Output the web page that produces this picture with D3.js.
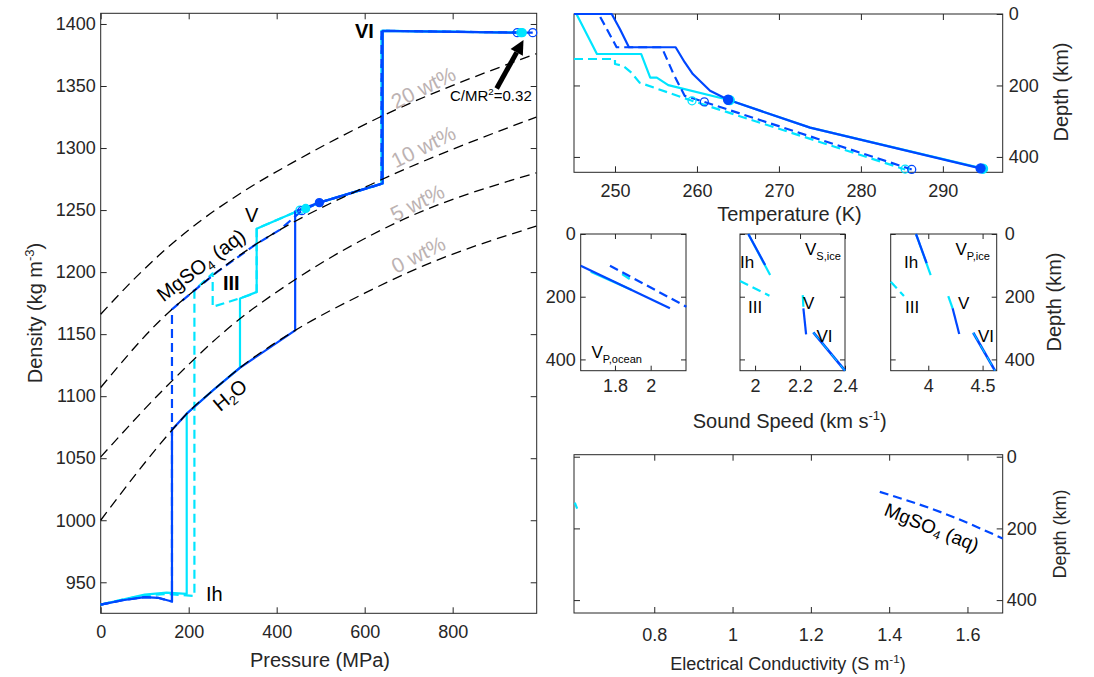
<!DOCTYPE html>
<html>
<head>
<meta charset="utf-8">
<script src="https://cdn.jsdelivr.net/npm/d3@7"></script>
<style>
  body { margin: 0; background: #fff; }
  svg text { font-family: "Liberation Sans", Arial, Helvetica, sans-serif; }
</style>
</head>
<body>
<svg id="fig" width="1094" height="677"></svg>
<script>
// ---------- main panel: density (kg m^-3) vs pressure (MPa)
const pressureTicks = [0, 200, 400, 600, 800];
const densityTicks = [950, 1000, 1050, 1100, 1150, 1200, 1250, 1300, 1350, 1400];

// reference solution densities (black dashed)
const wt0 = [[0,1000],[163,1073],[196,1086],[256,1105],[317,1123],[442,1153],[600,1183],[733,1205],[990,1237]];
const wt5 = [[0,1051],[150,1108],[301,1158],[438,1193],[673,1240],[990,1280]];
const wt10 = [[0,1107],[135,1161],[165,1171],[214,1185.5],[264,1200],[351,1222],[407,1234],[635,1274],[990,1325]];
const wt20 = [[0,1166],[89,1199],[200,1234],[320,1264],[445,1290],[635,1325],[990,1376]];
const wtLabels = [
  {t: "20 wt%", x: 423, y: 87},
  {t: "10 wt%", x: 423, y: 146},
  {t: "5 wt%", x: 417, y: 202},
  {t: "0 wt%", x: 418, y: 254}
];

// model profiles
const rhoBlueSolid = [[0,932],[50,935.5],[100,938],[130,937.5],[162,934.5],[162,1073],[196,1086],[256,1105],[317,1123],[442,1153],[442,1249],[497,1256],[641,1271.5],[641,1394.5],[947,1393]];
const rhoBlueDashed = [[0,932],[50,935.5],[100,938],[130,937.5],[162,934.5],[162,1170],[214,1185.5],[264,1200],[351,1222],[407,1234],[457,1249.5],[497,1256],[638,1271],[638,1394.5],[982,1393]];
const rhoCyanSolid = [[0,932],[50,936],[100,940],[150,941.6],[195.5,940.6],[195.5,1086],[256,1105],[316.6,1123],[316.6,1178.8],[354.5,1184],[354.5,1235],[453,1250],[466,1251.3],[497,1256],[641,1271.5],[641,1394.5],[958,1393]];
const rhoCyanDashed = [[0,932],[50,936],[100,939.5],[150,940.5],[213,939],[213,1185.5],[254.5,1199],[254.5,1172],[339,1181.5],[354.5,1184],[354.5,1235],[453,1250],[497,1256],[638,1271],[638,1394.5],[955,1393]];
const rhoMarkers = [
  {p: 453, r: 1250, c: "cyan", fill: false}, {p: 457, r: 1249.5, c: "blue", fill: false},
  {p: 466, r: 1251.3, c: "cyan", fill: true}, {p: 497, r: 1256, c: "blue", fill: true},
  {p: 947, r: 1393, c: "blue", fill: false}, {p: 958, r: 1393, c: "cyan", fill: true},
  {p: 955, r: 1393, c: "cyan", fill: false}, {p: 982, r: 1393, c: "blue", fill: false}
];
const arrowTail = [900, 1348], arrowTip = [961, 1387];

// ---------- temperature panel: depth (km) vs T (K)
const tempTicks = [250, 260, 270, 280, 290];
const depthTicks = [0, 200, 400];
const tBlueSolid = [[245,0],[249.6,0],[250.6,42],[251.7,93],[257.4,93],[258.5,135],[259.5,168],[261.6,215],[263.8,240],[273.8,318],[294.6,432]];
const tCyanSolid = [[245.3,0],[247.8,112],[253.2,112],[254.3,178],[255.1,178],[256.5,199],[263.8,240],[273.8,318],[294.8,432]];
const tBlueDashed = [[245,0],[248,0],[249,42],[250.2,93],[255.7,93],[257.1,166],[258.5,229],[260.9,246],[286.2,435]];
const tCyanDashed = [[245,126],[250,126],[250,140],[251,145],[252,164],[253,192],[259.4,243],[285.4,435]];
const tMarkers = [
  {t: 259.4, d: 243, c: "cyan", fill: false}, {t: 260.9, d: 246, c: "blue", fill: false},
  {t: 264, d: 241, c: "cyan", fill: true}, {t: 263.8, d: 240, c: "blue", fill: true},
  {t: 285.4, d: 434, c: "cyan", fill: false}, {t: 286.2, d: 435, c: "blue", fill: false},
  {t: 294.9, d: 433, c: "cyan", fill: true}, {t: 294.6, d: 432, c: "blue", fill: true}
];

// ---------- sound speed panels (km s^-1) vs depth
const vpOceanTicks = [1.8, 2];
const vpOceanBlueSolid = [[1.608,101],[2.108,237]];
const vpOceanCyanSolid = [[1.664,120],[1.894,179]];
const vpOceanBlueDashed = [[1.772,101],[2.2,232]];
const vpOceanCyanDashed = [[1.84,128],[1.9,150]];

const vsTicks = [2, 2.2, 2.4];
const vsIhCyan = [[1.97,0],[2.067,131]];
const vsIhBlue = [[1.97,0],[2.045,99]];
const vsIIICyan = [[1.933,150],[2.064,197]];
const vsVCyan = [[2.212,195],[2.215,232]];
const vsVBlue = [[2.215,237],[2.227,320]];
const vsVI = [[2.259,314],[2.4,436]];

const vpIceTicks = [4, 4.5];
const vpIhCyan = [[3.887,0],[4.022,131]];
const vpIhBlue = [[3.887,0],[3.985,93]];
const vpIIICyan = [[3.654,152],[3.776,198]];
const vpVCyan = [[4.184,198],[4.224,237]];
const vpVBlue = [[4.224,237],[4.285,319]];
const vpVI = [[4.414,315],[4.614,436]];

// ---------- conductivity panel (S m^-1) vs depth
const condTicks = [0.8, 1, 1.2, 1.4, 1.6];
const condCyan = [[0.597,128],[0.603,145]];
const condBlueDashed = [[1.376,98],[1.54,158],[1.69,228]];

// ---------------------------------------------------------------
const svg = d3.select("#fig");
const AX = "#262626";
const COL = {blue: "#0047ff", cyan: "#00e5ff"};
const DASH = "9,5";

function panel(o) {
  const x = d3.scaleLinear().domain(o.xdom).range([o.left, o.right]);
  const y = d3.scaleLinear().domain(o.ydom).range(o.depth ? [o.top, o.bottom] : [o.bottom, o.top]);
  const id = "clip" + (panel.n = (panel.n || 0) + 1);
  svg.append("clipPath").attr("id", id).append("rect")
     .attr("x", o.left - 1.5).attr("y", o.top - 1.5)
     .attr("width", o.right - o.left + 3).attr("height", o.bottom - o.top + 3);
  const tl = o.tick || 6;
  const fmt = d => String(d);
  const g = svg.append("g");
  g.append("g").attr("transform", `translate(0,${o.bottom})`)
   .call(d3.axisBottom(x).tickValues(o.xticks).tickSize(-tl).tickPadding(o.xpad).tickFormat(fmt));
  g.append("g").attr("transform", `translate(0,${o.top})`)
   .call(d3.axisTop(x).tickValues(o.xticks).tickSize(-tl).tickFormat(""));
  g.append("g").attr("transform", `translate(${o.left},0)`)
   .call(d3.axisLeft(y).tickValues(o.yticks).tickSize(-tl).tickPadding(o.ypad || 5).tickFormat(o.ylab === "left" ? fmt : ""));
  g.append("g").attr("transform", `translate(${o.right},0)`)
   .call(d3.axisRight(y).tickValues(o.yticks).tickSize(-tl).tickPadding(o.ypad || 5).tickFormat(o.ylab === "right" ? fmt : ""));
  g.selectAll(".domain").remove();
  g.selectAll(".tick line").attr("stroke", AX);
  g.selectAll(".tick text").attr("fill", AX).attr("font-size", o.fs || 18)
   .attr("font-family", '"Liberation Sans", Arial, sans-serif');
  g.append("rect").attr("x", o.left).attr("y", o.top)
   .attr("width", o.right - o.left).attr("height", o.bottom - o.top)
   .attr("fill", "none").attr("stroke", AX).attr("stroke-width", 1);
  const plot = svg.append("g").attr("clip-path", `url(#${id})`);
  const line = d3.line().x(d => x(d[0])).y(d => y(d[1]));
  const draw = (data, color, dashed, w) => plot.append("path").attr("d", line(data))
      .attr("fill", "none").attr("stroke", color).attr("stroke-width", w || 2.2)
      .attr("stroke-dasharray", dashed ? DASH : null).attr("stroke-linejoin", "round");
  return {x, y, plot, draw};
}

// rich text: parts with optional sub/sup
function rich(sel, parts, size) {
  let off = 0;
  parts.forEach(p => {
    const target = p.sup ? -size * 0.4 : p.sub ? size * 0.3 : 0;
    const ts = sel.append("tspan").text(p.t).attr("dy", target - off);
    if (p.sup || p.sub) ts.attr("font-size", size * 0.65);
    off = target;
  });
  return sel;
}
function label(x, y, parts, size, opts = {}) {
  const t = svg.append("text").attr("x", x).attr("y", y).attr("font-size", size)
    .attr("fill", opts.fill || AX).attr("text-anchor", opts.anchor || "start")
    .attr("font-weight", opts.bold ? "bold" : null);
  if (opts.rot) t.attr("transform", `rotate(${opts.rot},${x},${y})`);
  return rich(t, typeof parts === "string" ? [{t: parts}] : parts, size);
}

// ---------- main panel
const M = panel({left: 100.7, right: 536.7, top: 13.3, bottom: 613.3,
  xdom: [0, 991], ydom: [925, 1408.6], xticks: pressureTicks, yticks: densityTicks,
  ylab: "left", xpad: 12, ypad: 5, tick: 6});
M.draw(rhoCyanDashed, COL.cyan, true);
M.draw(rhoCyanSolid, COL.cyan, false);
M.draw(rhoBlueDashed, COL.blue, true);
M.draw(rhoBlueSolid, COL.blue, false);
// solution density references drawn over the profiles
const curve = d3.line().x(d => M.x(d[0])).y(d => M.y(d[1])).curve(d3.curveMonotoneX);
[wt0, wt5, wt10, wt20].forEach(w => M.plot.append("path").attr("d", curve(w))
  .attr("fill", "none").attr("stroke", "#000").attr("stroke-width", 1.3).attr("stroke-dasharray", "10,6"));
M.plot.selectAll("circle.m").data(rhoMarkers).enter().append("circle")
  .attr("cx", d => M.x(d.p)).attr("cy", d => M.y(d.r)).attr("r", 4)
  .attr("fill", d => d.fill ? COL[d.c] : "none").attr("stroke", d => COL[d.c]).attr("stroke-width", 1.3);

// arrow to C/MR^2 points
{
  const x0 = M.x(arrowTail[0]), y0 = M.y(arrowTail[1]), x1 = M.x(arrowTip[0]), y1 = M.y(arrowTip[1]);
  const a = Math.atan2(y1 - y0, x1 - x0), L = 14, W = 7;
  const bx = x1 - L * Math.cos(a), by = y1 - L * Math.sin(a);
  svg.append("line").attr("x1", x0).attr("y1", y0).attr("x2", bx).attr("y2", by)
    .attr("stroke", "#000").attr("stroke-width", 5);
  svg.append("path").attr("fill", "#000").attr("d",
    `M${x1},${y1}L${bx + W * Math.sin(a)},${by - W * Math.cos(a)}L${bx - W * Math.sin(a)},${by + W * Math.cos(a)}Z`);
}
label(450, 101, [{t: "C/MR"}, {t: "2", sup: true}, {t: "=0.32"}], 15, {fill: "#000"});

wtLabels.forEach(l => label(l.x, l.y, l.t, 21, {fill: "#bcb2b2", anchor: "middle", rot: -26.5})
  .attr("dominant-baseline", "central"));
label(355, 38, "VI", 20, {fill: "#000", bold: true});
label(245, 221.5, "V", 20, {fill: "#000"});
label(223, 290, "III", 20, {fill: "#000", bold: true});
label(206, 601, "Ih", 20, {fill: "#000"});
label(201, 265, [{t: "MgSO"}, {t: "4", sub: true}, {t: " (aq)"}], 20, {fill: "#000", anchor: "middle", rot: -37.5})
  .attr("dominant-baseline", "central");
label(230, 395, [{t: "H"}, {t: "2", sub: true}, {t: "O"}], 20, {fill: "#000", anchor: "middle", rot: -40})
  .attr("dominant-baseline", "central");
label(42, 313, [{t: "Density (kg m"}, {t: "-3", sup: true}, {t: ")"}], 20, {anchor: "middle", rot: -90});
label(320, 667, "Pressure (MPa)", 20, {anchor: "middle"});

// ---------- temperature panel
const T = panel({left: 574, right: 1002.7, top: 14, bottom: 172.3, depth: true,
  xdom: [245, 297.3], ydom: [0, 443], xticks: tempTicks, yticks: depthTicks,
  ylab: "right", xpad: 12, ypad: 6, tick: 6});
T.draw(tCyanDashed, COL.cyan, true);
T.draw(tCyanSolid, COL.cyan, false);
T.draw(tBlueDashed, COL.blue, true);
T.draw(tBlueSolid, COL.blue, false);
svg.append("g").selectAll("circle").data(tMarkers).enter().append("circle")
  .attr("cx", d => T.x(d.t)).attr("cy", d => T.y(d.d)).attr("r", d => d.fill ? 4.5 : 4)
  .attr("fill", d => d.fill ? COL[d.c] : "none").attr("stroke", d => COL[d.c]).attr("stroke-width", 1.3);
label(789.5, 221, "Temperature (K)", 20, {anchor: "middle"});
label(1068, 92, "Depth (km)", 20, {anchor: "middle", rot: -90});

// ---------- sound speed panels
const V1 = panel({left: 580.7, right: 686, top: 234, bottom: 370.7, depth: true,
  xdom: [1.608, 2.198], ydom: [0, 436], xticks: vpOceanTicks, yticks: depthTicks,
  ylab: "left", xpad: 8.5, ypad: 5, tick: 5});
V1.draw(vpOceanCyanSolid, COL.cyan, false);
V1.draw(vpOceanCyanDashed, COL.cyan, true);
V1.draw(vpOceanBlueSolid, COL.blue, false);
V1.draw(vpOceanBlueDashed, COL.blue, true);
label(591.5, 357.5, [{t: "V"}, {t: "P,ocean", sub: true}], 17, {fill: "#000"});

const V2 = panel({left: 740, right: 845, top: 234, bottom: 370.7, depth: true,
  xdom: [1.933, 2.4], ydom: [0, 436], xticks: vsTicks, yticks: depthTicks,
  ylab: null, xpad: 8.5, tick: 5});
V2.draw(vsIhCyan, COL.cyan, false);
V2.draw(vsIhBlue, COL.blue, false);
V2.draw(vsIIICyan, COL.cyan, true);
V2.draw(vsVCyan, COL.cyan, false);
V2.draw(vsVBlue, COL.blue, false);
V2.draw(vsVI, COL.blue, false, 2.6);
V2.draw(vsVI, COL.cyan, true, 1);
label(805, 255, [{t: "V"}, {t: "S,ice", sub: true}], 17, {fill: "#000"});
label(740, 267.5, "Ih", 17, {fill: "#000"});
label(748, 312.5, "III", 17, {fill: "#000"});
label(803, 308.5, "V", 17, {fill: "#000"});
label(816.5, 342, "VI", 17, {fill: "#000"});

const V3 = panel({left: 890.7, right: 996.7, top: 234, bottom: 370.7, depth: true,
  xdom: [3.654, 4.63], ydom: [0, 436], xticks: vpIceTicks, yticks: depthTicks,
  ylab: "right", xpad: 8.5, ypad: 8, tick: 5});
V3.draw(vpIhCyan, COL.cyan, false);
V3.draw(vpIhBlue, COL.blue, false);
V3.draw(vpIIICyan, COL.cyan, true);
V3.draw(vpVCyan, COL.cyan, false);
V3.draw(vpVBlue, COL.blue, false);
V3.draw(vpVI, COL.blue, false, 2.6);
V3.draw(vpVI, COL.cyan, true, 1);
label(955.5, 255, [{t: "V"}, {t: "P,ice", sub: true}], 17, {fill: "#000"});
label(904, 267.5, "Ih", 17, {fill: "#000"});
label(905, 312.5, "III", 17, {fill: "#000"});
label(958, 308.5, "V", 17, {fill: "#000"});
label(978, 342, "VI", 17, {fill: "#000"});

label(789.7, 428, [{t: "Sound Speed (km s"}, {t: "-1", sup: true}, {t: ")"}], 20, {anchor: "middle"});
label(1061, 302, "Depth (km)", 20, {anchor: "middle", rot: -90});

// ---------- conductivity panel
const C = panel({left: 574, right: 1002.7, top: 454.7, bottom: 613, depth: true,
  xdom: [0.595, 1.69], ydom: [-5.6, 436], xticks: condTicks, yticks: depthTicks,
  ylab: "right", xpad: 15, ypad: 4, tick: 6});
C.draw(condCyan, COL.cyan, false);
const cl = d3.line().x(d => C.x(d[0])).y(d => C.y(d[1])).curve(d3.curveMonotoneX);
C.plot.append("path").attr("d", cl(condBlueDashed)).attr("fill", "none")
  .attr("stroke", COL.blue).attr("stroke-width", 2.2).attr("stroke-dasharray", DASH);
label(932, 527, [{t: "MgSO"}, {t: "4", sub: true}, {t: " (aq)"}], 19, {fill: "#000", anchor: "middle", rot: 22})
  .attr("dominant-baseline", "central");
label(788, 670, [{t: "Electrical Conductivity (S m"}, {t: "-1", sup: true}, {t: ")"}], 18, {anchor: "middle"});
label(1066, 534, "Depth (km)", 18, {anchor: "middle", rot: -90});
</script>
</body>
</html>
